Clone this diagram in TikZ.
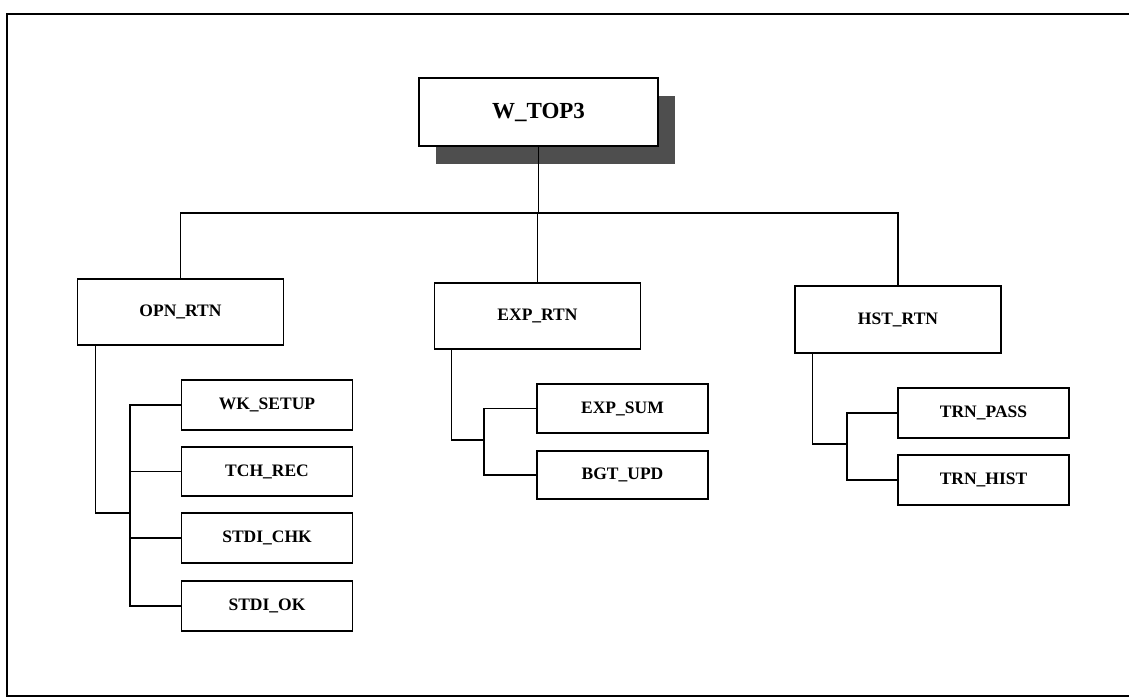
\documentclass[tikz,border=0pt]{standalone}
\usepackage{fontspec}
\setmainfont{Liberation Serif}
\usetikzlibrary{shadows}
\definecolor{shadowgray}{HTML}{4E4E4E}
\begin{document}
\begin{tikzpicture}[x=1pt,y=-1pt,
  box/.style={draw, line width=1.7pt, fill=white, rectangle, inner sep=0pt,
    font=\bfseries\fontsize{17.5}{19}\selectfont, text=black},
  topbox/.style={box, minimum width=239pt, minimum height=68pt,
    font=\bfseries\fontsize{23}{26}\selectfont,
    drop shadow={shadow xshift=17pt, shadow yshift=-18pt, fill=shadowgray, opacity=1}},
  midbox/.style={box, minimum width=206pt, minimum height=66pt},
  leafbox/.style={box, minimum width=171pt, minimum height=49pt},
  conn/.style={line width=1.3pt},
  frame/.style={line width=2.6pt}]
\useasboundingbox (0,0) rectangle (1129,699);
\fill[white] (0,0) rectangle (1129,699);
\draw[frame] (1140,14) -- (7,14) -- (7,696) -- (1140,696);

\node[topbox] (top) at (538.5,112) {W\_TOP3};

\node[midbox] (opn) at (180.5,312) {OPN\_RTN};
\node[midbox] (exp) at (537.5,316) {EXP\_RTN};
\node[midbox, minimum height=67pt] (hst) at (898,319.5) {HST\_RTN};

\node[leafbox, minimum height=50pt] (wk)  at (267,405) {WK\_SETUP};
\node[leafbox] (tch) at (267,471.5) {TCH\_REC};
\node[leafbox, minimum height=50pt] (chk) at (267,538) {STDI\_CHK};
\node[leafbox, minimum height=50pt] (ok)  at (267,606) {STDI\_OK};

\node[leafbox] (esum) at (622.5,408.5) {EXP\_SUM};
\node[leafbox, minimum height=48pt] (bgt) at (622.5,475) {BGT\_UPD};

\node[leafbox, minimum height=50pt] (tpass) at (983.5,413) {TRN\_PASS};
\node[leafbox, minimum height=50pt] (thist) at (983.5,480) {TRN\_HIST};

\coordinate (bar) at (537,213);
\coordinate (opnbus) at (130,513);
\coordinate (expbus) at (484,440);
\coordinate (hstbus) at (847,444);

% level 1
\draw[conn] (top.south) -- (top.south |- bar);
\draw[conn] (opn.north) |- (hst.north |- bar) -- (hst.north);
\draw[conn] (exp.north) -- (exp.north |- bar);

% OPN subtree
\draw[conn] ([xshift=19pt]opn.south west) |- (opnbus);
\draw[conn] (wk.west) -| (opnbus |- ok.west) -- (ok.west);
\draw[conn] (tch.west) -- (tch.west -| opnbus);
\draw[conn] (chk.west) -- (chk.west -| opnbus);

% EXP subtree
\draw[conn] ([xshift=18pt]exp.south west) |- (expbus);
\draw[conn] (esum.west) -| (expbus |- bgt.west) -- (bgt.west);

% HST subtree
\draw[conn] ([xshift=18pt]hst.south west) |- (hstbus);
\draw[conn] (tpass.west) -| (hstbus |- thist.west) -- (thist.west);
\end{tikzpicture}
\end{document}
